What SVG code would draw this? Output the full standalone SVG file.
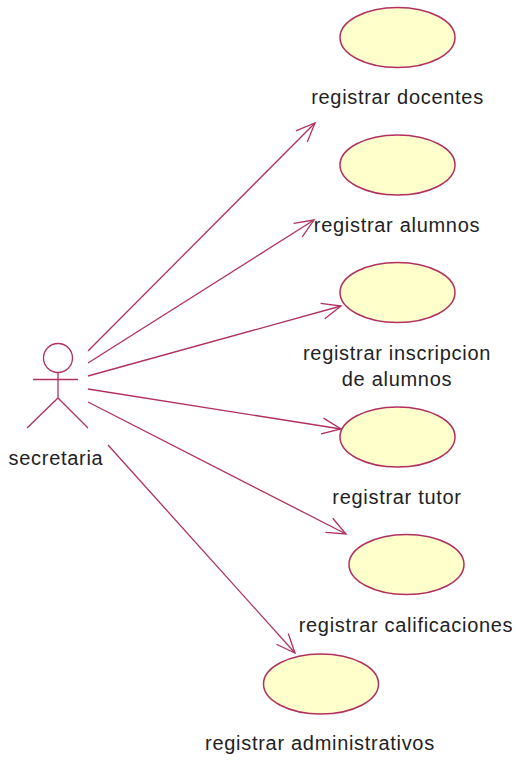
<svg xmlns="http://www.w3.org/2000/svg" width="516" height="760" viewBox="0 0 516 760">
<style>
.u{fill:#ffffcb;stroke:#b03060;stroke-width:1.5}
.l{fill:none;stroke:#b03060;stroke-width:1.3}
text{font-family:"Liberation Sans",Arial,sans-serif;font-size:20px;letter-spacing:.7px;fill:#222;stroke:none;text-anchor:middle}
</style>
<defs>
<marker id="a" markerUnits="userSpaceOnUse" markerWidth="30" markerHeight="30" refX="22" refY="11" orient="auto"><path d="M3 3L22 11L3 19" fill="none" stroke="#b03060" stroke-width="1.3"/></marker>
</defs>
<rect width="516" height="760" fill="#fff"/>
<g id="connectors" class="l">
<path d="M88 351L315 123" marker-end="url(#a)"/>
<path d="M88 363L314 220" marker-end="url(#a)"/>
<path d="M88 376L341 306" marker-end="url(#a)"/>
<path d="M88 389L341 429" marker-end="url(#a)"/>
<path d="M88 402L346 534" marker-end="url(#a)"/>
<path d="M108 445L295 653" marker-end="url(#a)"/>
</g>
<g id="actor">
<circle class="l" cx="58" cy="358" r="14.500"/>
<path class="l" d="M33 379.500H78M58 372V398M27 428L58 398L88 428"/>
<text x="56" y="465">secretaria</text>
</g>
<g id="uc1"><ellipse class="u" cx="397.500" cy="37.500" rx="57.500" ry="30"/><text x="397.500" y="104">registrar docentes</text></g>
<g id="uc2"><ellipse class="u" cx="397.500" cy="165" rx="57.500" ry="30"/><text x="397" y="232">registrar alumnos</text></g>
<g id="uc3"><ellipse class="u" cx="397.500" cy="292.500" rx="57.500" ry="30"/><text x="397" y="360">registrar inscripcion</text><text x="397" y="386">de alumnos</text></g>
<g id="uc4"><ellipse class="u" cx="397.500" cy="437" rx="57.500" ry="30"/><text x="397" y="504">registrar tutor</text></g>
<g id="uc5"><ellipse class="u" cx="406.500" cy="564.500" rx="57.500" ry="30"/><text x="406" y="632">registrar calificaciones</text></g>
<g id="uc6"><ellipse class="u" cx="321" cy="684" rx="57.500" ry="30"/><text x="320" y="750">registrar administrativos</text></g>
</svg>
